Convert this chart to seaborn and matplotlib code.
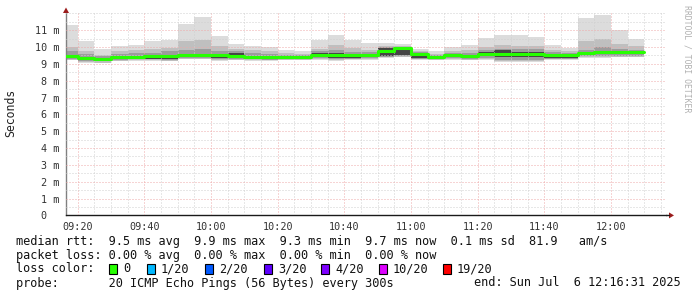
import matplotlib
matplotlib.use("Agg")
import matplotlib.pyplot as plt
from matplotlib.patches import Polygon, Rectangle
from matplotlib.lines import Line2D
from matplotlib.ticker import MultipleLocator, FixedLocator
import seaborn as sns
import pandas as pd

# ---------------- data ----------------
start_time = "09:16:31"
end_time = "12:16:31"
# end time of each 5-minute sample (bar)
sample_times = ["09:20", "09:25", "09:30", "09:35", "09:40", "09:45", "09:50", "09:55",
                "10:00", "10:05", "10:10", "10:15", "10:20", "10:25", "10:30", "10:35",
                "10:40", "10:45", "10:50", "10:55", "11:00", "11:05", "11:10", "11:15",
                "11:20", "11:25", "11:30", "11:35", "11:40", "11:45", "11:50", "11:55",
                "12:00", "12:05", "12:10"]
# ping distribution per sample (ms): outer -> inner quantile pairs
rtt_max = [11.32, 10.33, 9.90, 10.07, 10.13, 10.33, 10.43, 11.38, 11.77, 10.63, 10.17, 10.04,
           9.98, 9.84, 9.78, 10.39, 10.72, 10.41, 10.23, 10.23, 10.17, 9.88, 9.78, 9.98,
           10.10, 10.53, 10.72, 10.69, 10.59, 10.10, 9.93, 11.72, 11.91, 11.02, 10.49]
rtt_hi1 = [9.98, 9.74, 9.54, 9.78, 9.84, 9.90, 9.93, 10.33, 10.43, 10.04, 9.90, 9.80,
           9.74, 9.64, 9.60, 9.90, 10.10, 9.94, 9.84, 10.05, 10.05, 9.78, 9.60, 9.74,
           9.80, 10.00, 10.10, 10.05, 10.05, 9.84, 9.74, 10.33, 10.49, 10.20, 10.05]
rtt_hi2 = [9.78, 9.58, 9.44, 9.58, 9.62, 9.66, 9.74, 9.84, 9.88, 9.74, 9.74, 9.62,
           9.58, 9.54, 9.52, 9.74, 9.80, 9.72, 9.70, 9.98, 10.00, 9.70, 9.52, 9.62,
           9.64, 9.80, 9.90, 9.86, 9.86, 9.70, 9.64, 9.84, 9.98, 9.88, 9.84]
rtt_hi3 = [9.52, 9.42, 9.36, 9.44, 9.48, 9.50, 9.50, 9.58, 9.58, 9.58, 9.62, 9.48,
           9.46, 9.48, 9.48, 9.62, 9.62, 9.58, 9.60, 9.94, 9.98, 9.66, 9.48, 9.56,
           9.54, 9.68, 9.80, 9.72, 9.70, 9.60, 9.58, 9.70, 9.78, 9.78, 9.78]
rtt_median = [9.45, 9.35, 9.31, 9.38, 9.43, 9.44, 9.44, 9.51, 9.52, 9.51, 9.48, 9.42,
              9.40, 9.43, 9.43, 9.50, 9.51, 9.51, 9.54, 9.78, 9.92, 9.60, 9.43, 9.50,
              9.48, 9.60, 9.60, 9.60, 9.58, 9.54, 9.52, 9.64, 9.70, 9.72, 9.72]
rtt_lo3 = [9.33, 9.22, 9.18, 9.26, 9.30, 9.30, 9.26, 9.38, 9.38, 9.32, 9.34, 9.30,
           9.28, 9.30, 9.30, 9.38, 9.34, 9.36, 9.38, 9.48, 9.52, 9.36, 9.30, 9.38,
           9.34, 9.44, 9.40, 9.42, 9.42, 9.36, 9.34, 9.52, 9.56, 9.58, 9.58]
rtt_lo2 = [9.28, 9.18, 9.14, 9.22, 9.26, 9.26, 9.22, 9.34, 9.34, 9.26, 9.28, 9.26,
           9.24, 9.28, 9.28, 9.32, 9.28, 9.30, 9.32, 9.42, 9.46, 9.30, 9.28, 9.32,
           9.28, 9.34, 9.24, 9.24, 9.24, 9.30, 9.30, 9.44, 9.46, 9.48, 9.48]
rtt_lo1 = [9.24, 9.12, 9.08, 9.18, 9.22, 9.22, 9.18, 9.30, 9.30, 9.22, 9.24, 9.22,
           9.20, 9.24, 9.24, 9.28, 9.22, 9.26, 9.28, 9.38, 9.42, 9.26, 9.24, 9.28,
           9.24, 9.28, 9.16, 9.16, 9.16, 9.26, 9.26, 9.40, 9.40, 9.42, 9.42]
rtt_min = [9.20, 9.08, 9.04, 9.14, 9.18, 9.18, 9.14, 9.26, 9.26, 9.18, 9.20, 9.18,
           9.16, 9.20, 9.20, 9.24, 9.16, 9.20, 9.24, 9.34, 9.38, 9.22, 9.20, 9.24,
           9.20, 9.22, 9.10, 9.10, 9.10, 9.22, 9.22, 9.36, 9.34, 9.38, 9.38]

x_tick_labels = ["09:20", "09:40", "10:00", "10:20", "10:40", "11:00", "11:20", "11:40", "12:00"]
y_tick_values = [0, 1, 2, 3, 4, 5, 6, 7, 8, 9, 10, 11]
y_tick_labels = ["0  ", "1 m", "2 m", "3 m", "4 m", "5 m", "6 m", "7 m", "8 m", "9 m", "10 m", "11 m"]

stats_line1 = "median rtt:  9.5 ms avg  9.9 ms max  9.3 ms min  9.7 ms now  0.1 ms sd  81.9   am/s"
stats_line2 = "packet loss: 0.00 % avg  0.00 % max  0.00 % min  0.00 % now"
loss_labels = ["0", "1/20", "2/20", "3/20", "4/20", "10/20", "19/20"]
loss_colors = ["#26ff00", "#00b8ff", "#0059ff", "#5e00ff", "#7e00ff", "#dd00ff", "#ff0000"]
probe_text = "probe:       20 ICMP Echo Pings (56 Bytes) every 300s"
end_text = "end: Sun Jul  6 12:16:31 2025"

# ---------------- figure ----------------
sns.set_style("white")
plt.rcParams['font.family'] = ['DejaVu Sans Mono']

W, H = 697, 297
fig = plt.figure(figsize=(W / 100, H / 100), dpi=100)
fig.patch.set_facecolor("white")


def fx(px):
    return px / W


def fy(py):
    return 1 - py / H


def to_min(s):
    parts = [int(p) for p in s.split(":")]
    while len(parts) < 3:
        parts.append(0)
    return parts[0] * 60 + parts[1] + parts[2] / 60.0


ax = fig.add_axes([fx(66), fy(215.4), fx(666) - fx(66), fy(13) - fy(215.4)])
ax.set_facecolor("white")

edges = [to_min(start_time)] + [to_min(t) for t in sample_times]


def ext(a):
    return list(a) + [a[-1]]


layers = [(rtt_min, rtt_max, "#dcdcdc"),
          (rtt_lo1, rtt_hi1, "#bfbfbf"),
          (rtt_lo2, rtt_hi2, "#9c9c9c"),
          (rtt_lo3, rtt_hi3, "#454545")]
for lo, hi, col in layers:
    ax.fill_between(edges, ext(lo), ext(hi), step="post", color=col, lw=0,
                    antialiased=False, zorder=1)

df = pd.DataFrame({"t": edges, "median": ext(rtt_median)})
sns.lineplot(data=df, x="t", y="median", drawstyle="steps-post", color=loss_colors[0],
             lw=2.2, ax=ax, zorder=4, errorbar=None, sort=False)
ax.set_xlabel("")
ax.set_ylabel("")

ax.set_xlim(to_min(start_time), to_min(end_time))
ax.set_ylim(0, 12.02)

major_x = [to_min(t) for t in x_tick_labels]
ax.xaxis.set_major_locator(FixedLocator(major_x))
ax.set_xticklabels(x_tick_labels)
ax.xaxis.set_minor_locator(MultipleLocator(5))
ax.set_yticks(y_tick_values)
ax.set_yticklabels(y_tick_labels)
ax.yaxis.set_minor_locator(MultipleLocator(0.5))

ax.grid(which="minor", color="#d0d0d0", linestyle=(0, (1, 2)), lw=0.72)
ax.grid(which="major", color="#eeaaaa", linestyle=(0, (1, 2)), lw=0.72)
ax.set_axisbelow(False)

ax.tick_params(which="both", direction="out", length=2, width=0.6, color="#909090",
               labelsize=7.3, labelcolor="#333333", pad=3)
ax.tick_params(which="minor", length=1.5)

for s in ["top", "right"]:
    ax.spines[s].set_visible(False)
ax.spines["left"].set_color("#808080")
ax.spines["left"].set_linewidth(1.0)
ax.spines["bottom"].set_color("#1a1a1a")
ax.spines["bottom"].set_linewidth(1.0)

# axis extensions and arrows
fig.add_artist(Line2D([fx(666), fx(669)], [fy(215.4), fy(215.4)], color="#1a1a1a", lw=1.0))
fig.add_artist(Polygon([[fx(669), fy(212.4)], [fx(674), fy(215.4)], [fx(669), fy(218.4)]],
                       closed=True, color="#9b1c1c", lw=0))
fig.add_artist(Polygon([[fx(63), fy(13)], [fx(66), fy(7.5)], [fx(69), fy(13)]],
                       closed=True, color="#9b1c1c", lw=0))

# labels
fig.text(fx(11), fy(113), "Seconds", rotation=90, ha="center", va="center",
         fontsize=8.3, color="#222222")
fig.text(fx(686.5), fy(59), "RRDTOOL / TOBI OETIKER", rotation=270, ha="center",
         va="center", fontsize=5.9, color="#b0b0b0")

tfs = 8.6
fig.text(fx(16), fy(241), stats_line1, ha="left", va="center", fontsize=tfs, color="#111111")
fig.text(fx(16), fy(255), stats_line2, ha="left", va="center", fontsize=tfs, color="#111111")
fig.text(fx(16), fy(269), "loss color:", ha="left", va="center", fontsize=tfs, color="#111111")
box_x = [109, 147, 205, 264, 321, 379, 443]
for bx, lab, col in zip(box_x, loss_labels, loss_colors):
    fig.add_artist(Rectangle((fx(bx), fy(274)), fx(8), 10 / H, facecolor=col,
                             edgecolor="black", lw=0.8))
    fig.text(fx(bx + 14), fy(269), lab, ha="left", va="center", fontsize=tfs, color="#111111")
fig.text(fx(16), fy(283), probe_text, ha="left", va="center", fontsize=tfs, color="#111111")
fig.text(fx(681), fy(283), end_text, ha="right", va="center", fontsize=tfs, color="#111111")

fig.savefig("out.png", dpi=100, facecolor="white")
